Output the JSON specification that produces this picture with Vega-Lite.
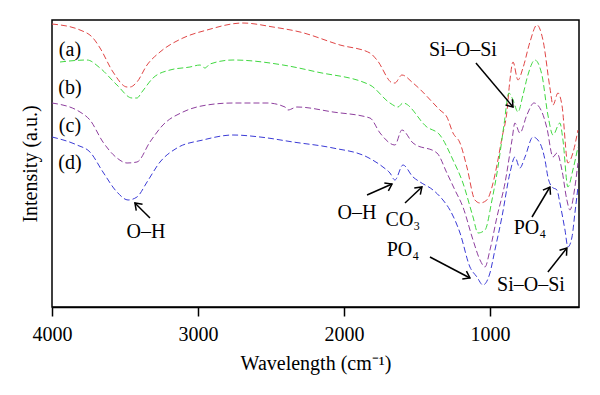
{
  "$schema": "https://vega.github.io/schema/vega-lite/v6.json",
  "width": 527,
  "height": 287,
  "autosize": {"type": "none"},
  "padding": {"left": 52, "top": 20, "right": 21, "bottom": 88},
  "background": "white",
  "config": {"view": {"stroke": "black", "strokeWidth": 1.5}, "font": "Liberation Serif"},
  "datasets": {
    "spectra": [
      {"s":"a","wn":4000,"I":283},{"s":"a","wn":3808,"I":277},{"s":"a","wn":3719,"I":269},{"s":"a","wn":3671,"I":259},{"s":"a","wn":3582,"I":235},{"s":"a","wn":3486,"I":220},{"s":"a","wn":3466,"I":220},{"s":"a","wn":3418,"I":225},{"s":"a","wn":3349,"I":242},{"s":"a","wn":3260,"I":255},{"s":"a","wn":3103,"I":269},{"s":"a","wn":2938,"I":277},{"s":"a","wn":2692,"I":284},{"s":"a","wn":2486,"I":280},{"s":"a","wn":2301,"I":275},{"s":"a","wn":2027,"I":262},{"s":"a","wn":1822,"I":254},{"s":"a","wn":1774,"I":247},{"s":"a","wn":1664,"I":224},{"s":"a","wn":1651,"I":224},{"s":"a","wn":1603,"I":232},{"s":"a","wn":1527,"I":224},{"s":"a","wn":1343,"I":197},{"s":"a","wn":1295,"I":190},{"s":"a","wn":1253,"I":174},{"s":"a","wn":1205,"I":164},{"s":"a","wn":1158,"I":140},{"s":"a","wn":1103,"I":107},{"s":"a","wn":1068,"I":104},{"s":"a","wn":1021,"I":107},{"s":"a","wn":986,"I":120},{"s":"a","wn":952,"I":142},{"s":"a","wn":918,"I":169},{"s":"a","wn":884,"I":195},{"s":"a","wn":863,"I":227},{"s":"a","wn":842,"I":245},{"s":"a","wn":808,"I":227},{"s":"a","wn":774,"I":239},{"s":"a","wn":726,"I":265},{"s":"a","wn":678,"I":282},{"s":"a","wn":637,"I":267},{"s":"a","wn":589,"I":219},{"s":"a","wn":568,"I":202},{"s":"a","wn":534,"I":214},{"s":"a","wn":507,"I":202},{"s":"a","wn":466,"I":144},{"s":"a","wn":432,"I":154},{"s":"a","wn":397,"I":177},
      {"s":"b","wn":3945,"I":245},{"s":"b","wn":3760,"I":247},{"s":"b","wn":3671,"I":239},{"s":"b","wn":3555,"I":222},{"s":"b","wn":3452,"I":209},{"s":"b","wn":3418,"I":209},{"s":"b","wn":3384,"I":215},{"s":"b","wn":3308,"I":229},{"s":"b","wn":3192,"I":237},{"s":"b","wn":3055,"I":240},{"s":"b","wn":2986,"I":242},{"s":"b","wn":2952,"I":239},{"s":"b","wn":2918,"I":243},{"s":"b","wn":2760,"I":247},{"s":"b","wn":2418,"I":242},{"s":"b","wn":2185,"I":235},{"s":"b","wn":1822,"I":222},{"s":"b","wn":1685,"I":204},{"s":"b","wn":1630,"I":200},{"s":"b","wn":1596,"I":204},{"s":"b","wn":1432,"I":180},{"s":"b","wn":1343,"I":172},{"s":"b","wn":1253,"I":147},{"s":"b","wn":1185,"I":124},{"s":"b","wn":1116,"I":90},{"s":"b","wn":1082,"I":74},{"s":"b","wn":1034,"I":77},{"s":"b","wn":986,"I":107},{"s":"b","wn":945,"I":140},{"s":"b","wn":904,"I":182},{"s":"b","wn":870,"I":214},{"s":"b","wn":842,"I":207},{"s":"b","wn":808,"I":195},{"s":"b","wn":774,"I":212},{"s":"b","wn":740,"I":232},{"s":"b","wn":692,"I":247},{"s":"b","wn":644,"I":232},{"s":"b","wn":603,"I":192},{"s":"b","wn":568,"I":172},{"s":"b","wn":521,"I":184},{"s":"b","wn":500,"I":167},{"s":"b","wn":466,"I":120},{"s":"b","wn":432,"I":137},{"s":"b","wn":397,"I":160},
      {"s":"c","wn":4000,"I":204},{"s":"c","wn":3808,"I":195},{"s":"c","wn":3740,"I":187},{"s":"c","wn":3651,"I":165},{"s":"c","wn":3555,"I":149},{"s":"c","wn":3486,"I":144},{"s":"c","wn":3418,"I":145},{"s":"c","wn":3329,"I":165},{"s":"c","wn":3240,"I":182},{"s":"c","wn":3103,"I":195},{"s":"c","wn":2938,"I":202},{"s":"c","wn":2760,"I":204},{"s":"c","wn":2527,"I":204},{"s":"c","wn":2404,"I":200},{"s":"c","wn":2384,"I":197},{"s":"c","wn":2322,"I":200},{"s":"c","wn":2075,"I":195},{"s":"c","wn":1822,"I":189},{"s":"c","wn":1753,"I":174},{"s":"c","wn":1651,"I":162},{"s":"c","wn":1603,"I":177},{"s":"c","wn":1527,"I":164},{"s":"c","wn":1363,"I":154},{"s":"c","wn":1295,"I":134},{"s":"c","wn":1240,"I":117},{"s":"c","wn":1185,"I":100},{"s":"c","wn":1116,"I":67},{"s":"c","wn":1068,"I":47},{"s":"c","wn":1034,"I":40},{"s":"c","wn":1000,"I":57},{"s":"c","wn":952,"I":90},{"s":"c","wn":897,"I":124},{"s":"c","wn":849,"I":167},{"s":"c","wn":829,"I":184},{"s":"c","wn":795,"I":174},{"s":"c","wn":747,"I":192},{"s":"c","wn":699,"I":204},{"s":"c","wn":644,"I":195},{"s":"c","wn":610,"I":179},{"s":"c","wn":568,"I":150},{"s":"c","wn":541,"I":154},{"s":"c","wn":507,"I":137},{"s":"c","wn":473,"I":107},{"s":"c","wn":452,"I":97},{"s":"c","wn":418,"I":120},{"s":"c","wn":397,"I":144},
      {"s":"d","wn":4000,"I":170},{"s":"d","wn":3829,"I":162},{"s":"d","wn":3740,"I":155},{"s":"d","wn":3651,"I":135},{"s":"d","wn":3555,"I":115},{"s":"d","wn":3479,"I":107},{"s":"d","wn":3418,"I":110},{"s":"d","wn":3349,"I":125},{"s":"d","wn":3260,"I":145},{"s":"d","wn":3144,"I":159},{"s":"d","wn":2966,"I":167},{"s":"d","wn":2760,"I":172},{"s":"d","wn":2575,"I":170},{"s":"d","wn":2349,"I":165},{"s":"d","wn":2075,"I":159},{"s":"d","wn":1842,"I":150},{"s":"d","wn":1733,"I":140},{"s":"d","wn":1685,"I":134},{"s":"d","wn":1651,"I":127},{"s":"d","wn":1596,"I":142},{"s":"d","wn":1527,"I":130},{"s":"d","wn":1479,"I":125},{"s":"d","wn":1390,"I":117},{"s":"d","wn":1322,"I":107},{"s":"d","wn":1274,"I":97},{"s":"d","wn":1205,"I":74},{"s":"d","wn":1137,"I":40},{"s":"d","wn":1089,"I":30},{"s":"d","wn":1048,"I":22},{"s":"d","wn":1000,"I":34},{"s":"d","wn":966,"I":57},{"s":"d","wn":918,"I":90},{"s":"d","wn":863,"I":134},{"s":"d","wn":829,"I":150},{"s":"d","wn":795,"I":139},{"s":"d","wn":760,"I":150},{"s":"d","wn":705,"I":170},{"s":"d","wn":658,"I":164},{"s":"d","wn":623,"I":147},{"s":"d","wn":603,"I":130},{"s":"d","wn":575,"I":120},{"s":"d","wn":541,"I":117},{"s":"d","wn":521,"I":104},{"s":"d","wn":486,"I":77},{"s":"d","wn":466,"I":60},{"s":"d","wn":438,"I":70},{"s":"d","wn":418,"I":94},{"s":"d","wn":397,"I":120}
    ],
    "labels": [
      {"t":"(a)","wn":3877,"I":257},
      {"t":"(b)","wn":3877,"I":219},
      {"t":"(c)","wn":3877,"I":181},
      {"t":"(d)","wn":3877,"I":144},
      {"t":"Si–O–Si","wn":1185,"I":257},
      {"t":"O–H","wn":3356,"I":75},
      {"t":"O–H","wn":1911,"I":94},
      {"t":"CO₃","wn":1596,"I":87},
      {"t":"PO₄","wn":1596,"I":57},
      {"t":"PO₄","wn":726,"I":79},
      {"t":"Si–O–Si","wn":719,"I":22}
    ],
    "arrows": [
      {"x1":1096,"y1":244,"x2":842,"y2":200,"a":50},
      {"x1":3329,"y1":89,"x2":3432,"y2":104,"a":-135},
      {"x1":1842,"y1":112,"x2":1671,"y2":123,"a":-27},
      {"x1":1582,"y1":104,"x2":1466,"y2":120,"a":-43},
      {"x1":1411,"y1":50,"x2":1137,"y2":29,"a":28},
      {"x1":712,"y1":90,"x2":589,"y2":120,"a":-59},
      {"x1":603,"y1":35,"x2":473,"y2":59,"a":-52}
    ]
  },
  "layer": [
    {
      "data": {"name": "spectra"},
      "mark": {"type": "line", "strokeWidth": 1, "strokeDash": [6, 3], "interpolate": "monotone", "clip": true},
      "encoding": {
        "x": {"field": "wn", "type": "quantitative",
          "scale": {"domain": [4000, 390], "nice": false, "zero": false},
          "axis": {"values": [4000, 3000, 2000, 1000], "format": "d", "title": "Wavelength (cm⁻¹)", "grid": false,
            "tickSize": 9, "tickWidth": 1.5, "tickColor": "black", "domainColor": "black", "domainWidth": 1.5,
            "labelFontSize": 20, "labelColor": "black", "labelPadding": 8, "labelFlush": false, "labelOverlap": false,
            "titleFontSize": 20, "titleFontWeight": "normal", "titleColor": "black", "titlePadding": 9}},
        "y": {"field": "I", "type": "quantitative",
          "scale": {"domain": [0, 287], "nice": false, "zero": false},
          "axis": {"title": "Intensity (a.u.)", "labels": false, "ticks": false, "domain": false, "grid": false,
            "titleFontSize": 20, "titleFontWeight": "normal", "titleColor": "black", "titlePadding": 12}},
        "color": {"field": "s", "type": "nominal",
          "scale": {"domain": ["a", "b", "c", "d"], "range": ["#e04545", "#40d840", "#8e3f9e", "#3b3bd6"]},
          "legend": null}
      }
    },
    {
      "data": {"name": "labels"},
      "mark": {"type": "text", "fontSize": 20, "baseline": "middle", "align": "center", "color": "black"},
      "encoding": {
        "x": {"field": "wn", "type": "quantitative"},
        "y": {"field": "I", "type": "quantitative"},
        "text": {"field": "t"}
      }
    },
    {
      "data": {"name": "arrows"},
      "mark": {"type": "rule", "strokeWidth": 1.5, "color": "black"},
      "encoding": {
        "x": {"field": "x1", "type": "quantitative"},
        "x2": {"field": "x2"},
        "y": {"field": "y1", "type": "quantitative"},
        "y2": {"field": "y2"}
      }
    },
    {
      "data": {"name": "arrows"},
      "mark": {"type": "point", "shape": "M-1,-0.7L0,0L-1,0.7", "filled": false, "stroke": "black", "strokeWidth": 1.5, "size": 160, "opacity": 1},
      "encoding": {
        "x": {"field": "x2", "type": "quantitative"},
        "y": {"field": "y2", "type": "quantitative"},
        "angle": {"field": "a", "type": "quantitative", "scale": null}
      }
    }
  ]
}
